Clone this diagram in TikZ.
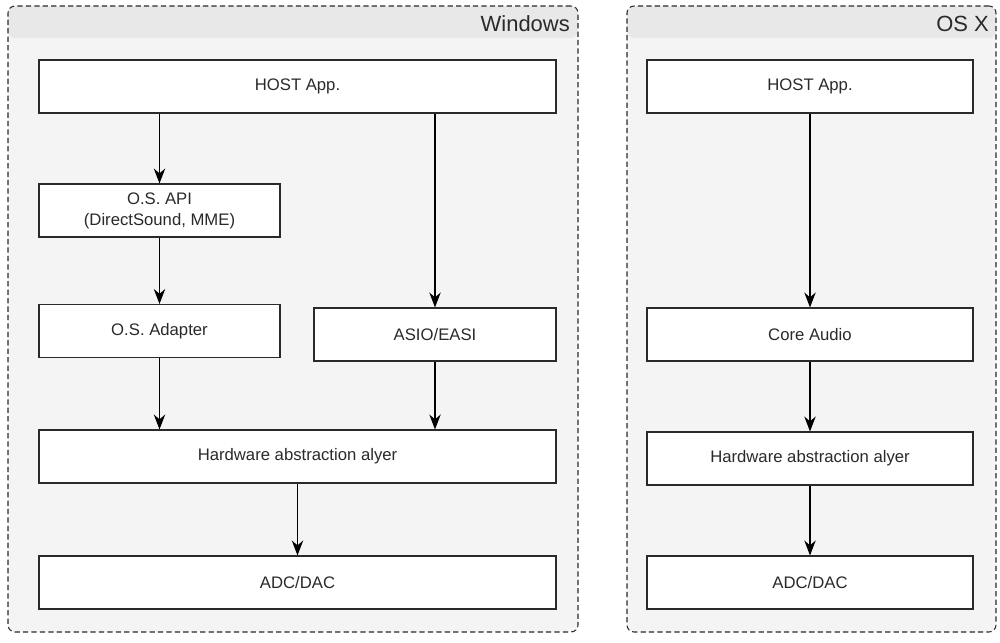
\documentclass[tikz,border=0pt]{standalone}
\usepackage{fontspec}
\setmainfont{Liberation Sans}
\usepackage{xcolor}
\usepackage{tikz}
\usetikzlibrary{positioning,arrows.meta}

\definecolor{panelgray}{HTML}{F4F4F4}
\definecolor{bandgray}{HTML}{E8E8E8}
\definecolor{inkgray}{HTML}{2A2A2A}

\begin{document}
\begin{tikzpicture}[
    container/.style={draw=inkgray, dashed, dash pattern=on 3pt off 1.8pt, line width=0.6pt, rounded corners=4pt,
        fill=panelgray, minimum height=12.52cm,
        path picture={\fill[bandgray] (path picture bounding box.north west) rectangle ([yshift=-0.64cm]path picture bounding box.north east);}},
    layerbox/.style={draw=inkgray, fill=white, line width=0.65pt, minimum height=1.06cm, align=center,
        font=\fontsize{9.5}{12}\selectfont, text=inkgray},
    oslabel/.style={anchor=east, font=\fontsize{12.5}{14}\selectfont, text=inkgray},
    flow/.style={-{Stealth[length=8.5pt,width=6.5pt]}, line width=0.65pt, draw=black}
]
\useasboundingbox (0,0) rectangle (20,-12.84);

% containers
\node[container, minimum width=11.40cm] (win) at (5.86,-6.38) {};
\node[container, minimum width=7.38cm] (osx) at (16.23,-6.38) {};
\node[oslabel] (winlabel) at (11.52,-0.48) {Windows};
\node[oslabel] (osxlabel) at (19.90,-0.48) {OS X};

% Windows stack
\node[layerbox, minimum width=10.34cm] (winhost) at (5.95,-1.73) {HOST App.};
\node[layerbox, minimum width=4.82cm] (osapi) at (3.19,-4.21) {O.S. API\\(DirectSound, MME)};
\node[layerbox, minimum width=4.82cm] (osadapter) at (3.19,-6.62) {O.S. Adapter};
\node[layerbox, minimum width=4.84cm] (asio) at (8.70,-6.69) {ASIO/EASI};
\node[layerbox, minimum width=10.34cm] (winhal) at (5.95,-9.13) {Hardware abstraction alyer};
\node[layerbox, minimum width=10.34cm] (winadc) at (5.95,-11.65) {ADC/DAC};

% OS X stack
\node[layerbox, minimum width=6.52cm] (osxhost) at (16.20,-1.73) {HOST App.};
\node[layerbox, minimum width=6.52cm] (coreaudio) at (16.20,-6.69) {Core Audio};
\node[layerbox, minimum width=6.52cm] (osxhal) at (16.20,-9.17) {Hardware abstraction alyer};
\node[layerbox, minimum width=6.52cm] (osxadc) at (16.20,-11.65) {ADC/DAC};

% connectors
\draw[flow] (winhost.south -| osapi.north) -- (osapi.north);
\draw[flow] (osapi.south) -- (osadapter.north);
\draw[flow] (osadapter.south) -- (winhal.north -| osadapter.south);
\draw[flow] (winhost.south -| asio.north) -- (asio.north);
\draw[flow] (asio.south) -- (winhal.north -| asio.south);
\draw[flow] (winhal.south) -- (winadc.north);

\draw[flow] (osxhost.south) -- (coreaudio.north);
\draw[flow] (coreaudio.south) -- (osxhal.north);
\draw[flow] (osxhal.south) -- (osxadc.north);

\end{tikzpicture}
\end{document}
